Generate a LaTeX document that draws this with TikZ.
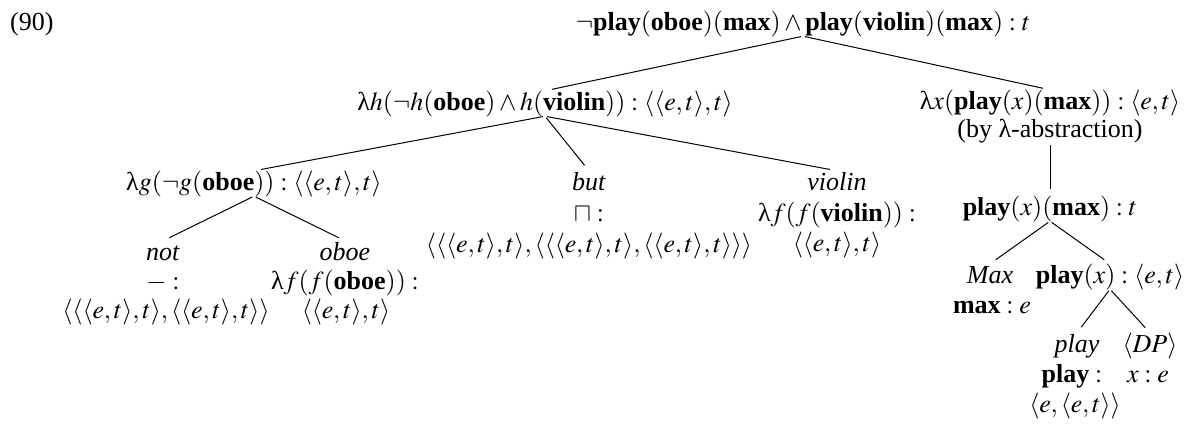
\documentclass[tikz,border=0pt]{standalone}
\usepackage{mathptmx}
\usepackage{fontspec}
\setmainfont{Liberation Serif}
\newcommand{\lam}{\mbox{λ}}
\begin{document}
\begin{tikzpicture}[x=1pt,y=-1pt]
\tikzset{
  lbl/.style={inner sep=0pt,anchor=base,text height=19pt,text depth=6pt,font=\fontsize{26}{30}\selectfont},
  branch/.style={line width=1pt,shorten >=7pt,shorten <=2pt}
}
\useasboundingbox (0,0) rectangle (1194,423);
% labels
\node[lbl,anchor=base west] (ex) at (10,30) {(90)};
\node[lbl] (top) at (803,30) {$\neg\textbf{play}(\textbf{oboe})(\textbf{max})\wedge\textbf{play}(\textbf{violin})(\textbf{max}):t$};
\node[lbl] (lh) at (545,110) {$\lam h(\neg h(\textbf{oboe})\wedge h(\textbf{violin})):\langle\langle e,t\rangle,t\rangle$};
\node[lbl] (lx) at (1050,109) {$\lam x(\textbf{play}(x)(\textbf{max})):\langle e,t\rangle$};
\node[lbl] (lxb) at (1050,137) {(by λ-abstraction)};
\node[lbl] (lg) at (254,190) {$\lam g(\neg g(\textbf{oboe})):\langle\langle e,t\rangle,t\rangle$};
\node[lbl] (but) at (589,190) {\textit{but}};
\node[lbl] (butb) at (589,221) {$\sqcap:$};
\node[lbl] (butc) at (589,252) {$\langle\langle\langle e,t\rangle,t\rangle,\langle\langle\langle e,t\rangle,t\rangle,\langle\langle e,t\rangle,t\rangle\rangle\rangle$};
\node[lbl] (vio) at (837,190) {\textit{violin}};
\node[lbl] (viob) at (837,221) {$\lam f(f(\textbf{violin})):$};
\node[lbl] (vioc) at (837,251) {$\langle\langle e,t\rangle,t\rangle$};
\node[lbl] (pxm) at (1050,215) {$\textbf{play}(x)(\textbf{max}):t$};
\node[lbl] (not) at (163,260) {\textit{not}};
\node[lbl] (notb) at (163,289) {$-:$};
\node[lbl] (notc) at (166,318) {$\langle\langle\langle e,t\rangle,t\rangle,\langle\langle e,t\rangle,t\rangle\rangle$};
\node[lbl] (oboe) at (345,260) {\textit{oboe}};
\node[lbl] (oboeb) at (345,289) {$\lam f(f(\textbf{oboe})):$};
\node[lbl] (oboec) at (346,318) {$\langle\langle e,t\rangle,t\rangle$};
\node[lbl] (max) at (990,283) {\textit{Max}};
\node[lbl] (maxb) at (992,313) {$\textbf{max}:e$};
\node[lbl] (px) at (1110,283) {$\textbf{play}(x):\langle e,t\rangle$};
\node[lbl] (play) at (1077,352) {\textit{play}};
\node[lbl] (playb) at (1072,382) {$\textbf{play}:$};
\node[lbl] (playc) at (1075,412) {$\langle e,\langle e,t\rangle\rangle$};
\node[lbl] (dp) at (1150,352) {$\langle DP\rangle$};
\node[lbl] (dpb) at (1148,382) {$x:e$};
% branches
\draw[branch] (top.south) -- (lh.north);
\draw[branch] (top.south) -- (lx.north);
\draw[branch] (lh.south) -- (lg.north);
\draw[branch] (lh.south) -- (but.north);
\draw[branch] (lh.south) -- (vio.north);
\draw[branch] (lxb.south) -- (pxm.north);
\draw[branch] (lg.south) -- (not.north);
\draw[branch] (lg.south) -- (oboe.north);
\draw[branch] (pxm.south) -- (max.north);
\draw[branch] (pxm.south) -- (px.north);
\draw[branch] (px.south) -- (play.north);
\draw[branch] (px.south) -- (dp.north);
\end{tikzpicture}
\end{document}
